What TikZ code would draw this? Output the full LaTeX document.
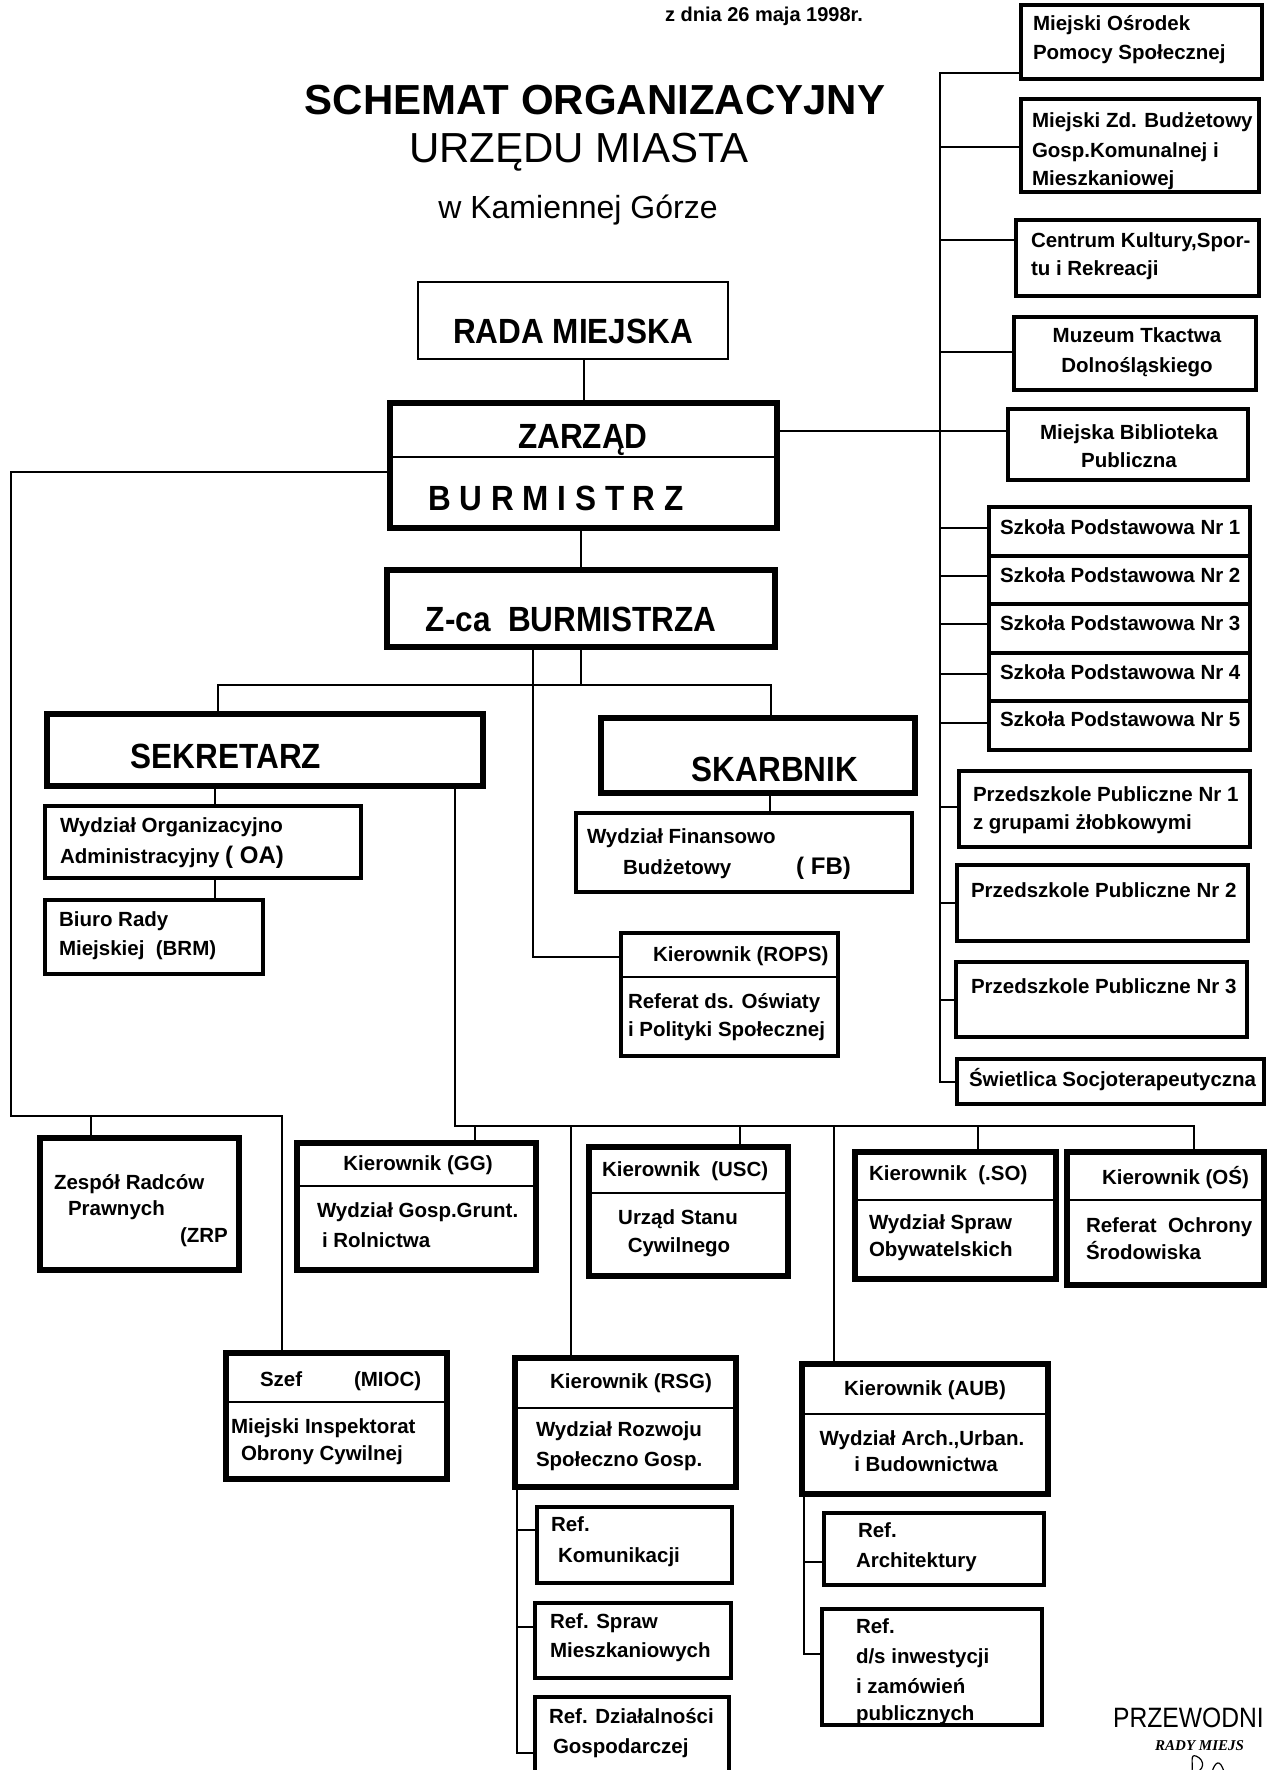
\documentclass[tikz,border=0pt]{standalone}
\usepackage{fontspec}
\setmainfont{Liberation Sans}
\newfontfamily\hdfont[FakeStretch=0.9]{Liberation Sans}
\newfontfamily\sigfont[FakeStretch=0.88]{Liberation Sans}
\newfontfamily\serfont{Liberation Serif}
\newcommand\obox[6]{\node[#2, minimum width={(#5-#3)*1pt}, minimum height={(#6-#4)*1pt}] (#1) at (#3,#4) {};}
\newcommand\dv[2]{\coordinate (#1-dv) at (0,#2); \draw[divl] (#1.west |- #1-dv) -- (#1.east |- #1-dv);}
\newcommand\tl[5]{\node[txt, anchor=#4] (#1) at (#2,#3) {#5};}
\begin{document}
\begin{tikzpicture}[x=1pt,y=-1pt,
  conn/.style={line width=1.3pt},
  boxbase/.style={draw, inner sep=0pt, outer sep=0pt, anchor=north west},
  thinbox/.style={boxbase, line width=1.6pt},
  medbox/.style={boxbase, line width=3.5pt},
  thickbox/.style={boxbase, line width=6.5pt},
  divl/.style={line width=1.8pt},
  txt/.style={inner sep=0pt, outer sep=0pt, font=\bfseries\fontsize{20.5}{24}\selectfont},
  hd/.style={inner sep=0pt, outer sep=0pt, font=\hdfont\bfseries\fontsize{35}{40}\selectfont},
]
\useasboundingbox (0,0) rectangle (1268,1770);
\clip (0,0) rectangle (1268,1770);

% ---------- title ----------
\node[inner sep=0pt, font=\bfseries\fontsize{20}{24}\selectfont] (date) at (764,16) {z dnia 26 maja 1998r.};
\node[inner sep=0pt, anchor=base, font=\bfseries\fontsize{42}{48}\selectfont] (title1) at (595,114) {SCHEMAT ORGANIZACYJNY};
\node[inner sep=0pt, anchor=base, font=\fontsize{42}{48}\selectfont] (title2) at (579,162) {URZĘDU MIASTA};
\node[inner sep=0pt, anchor=base, font=\fontsize{32}{36}\selectfont] (title3) at (578,218) {w Kamiennej Górze};

% ---------- right column ----------
\obox{mops}{medbox}{1021}{5}{1262}{79}
\tl{mops1}{1033}{30}{base west}{Miejski Ośrodek}
\tl{mops2}{1033}{59}{base west}{Pomocy Społecznej}

\obox{mzb}{medbox}{1021}{99}{1259}{192}
\tl{mzb1}{1032}{127}{base west}{Miejski Zd. Budżetowy}
\tl{mzb2}{1032}{157}{base west}{Gosp.Komunalnej i}
\tl{mzb3}{1032}{185}{base west}{Mieszkaniowej}

\obox{ck}{medbox}{1016}{220}{1259}{296}
\tl{ck1}{1031}{247}{base west}{Centrum Kultury,Spor-}
\tl{ck2}{1031}{275}{base west}{tu i Rekreacji}

\obox{muz}{medbox}{1014}{317}{1256}{390}
\tl{muz1}{1137}{342}{base}{Muzeum Tkactwa}
\tl{muz2}{1137}{372}{base}{Dolnośląskiego}

\obox{bib}{medbox}{1008}{409}{1248}{480}
\tl{bib1}{1129}{439}{base}{Miejska Biblioteka}
\tl{bib2}{1129}{467}{base}{Publiczna}

\obox{sp1}{medbox}{989}{507}{1250}{556}
\obox{sp2}{medbox}{989}{556}{1250}{604}
\obox{sp3}{medbox}{989}{604}{1250}{653}
\obox{sp4}{medbox}{989}{653}{1250}{701}
\obox{sp5}{medbox}{989}{701}{1250}{750}
\tl{sp1t}{1000}{534}{base west}{Szkoła Podstawowa Nr 1}
\tl{sp2t}{1000}{582}{base west}{Szkoła Podstawowa Nr 2}
\tl{sp3t}{1000}{630}{base west}{Szkoła Podstawowa Nr 3}
\tl{sp4t}{1000}{679}{base west}{Szkoła Podstawowa Nr 4}
\tl{sp5t}{1000}{726}{base west}{Szkoła Podstawowa Nr 5}

\obox{pp1}{medbox}{959}{771}{1250}{847}
\tl{pp1a}{973}{801}{base west}{Przedszkole Publiczne Nr 1}
\tl{pp1b}{973}{829}{base west}{z grupami żłobkowymi}
\obox{pp2}{medbox}{957}{865}{1248}{941}
\tl{pp2a}{971}{897}{base west}{Przedszkole Publiczne Nr 2}
\obox{pp3}{medbox}{956}{962}{1247}{1037}
\tl{pp3a}{971}{993}{base west}{Przedszkole Publiczne Nr 3}
\obox{swt}{medbox}{957}{1059}{1264}{1104}
\tl{swt1}{969}{1086}{base west}{Świetlica Socjoterapeutyczna}

% right bus
\coordinate (rb0) at (940,73);
\coordinate (rb1) at (940,147);
\coordinate (rb2) at (940,240);
\coordinate (rb3) at (940,352);
\coordinate (rb4) at (940,431);
\coordinate (rb5) at (940,528);
\coordinate (rb6) at (940,576);
\coordinate (rb7) at (940,624);
\coordinate (rb8) at (940,674);
\coordinate (rb9) at (940,723);
\coordinate (rb10) at (940,807);
\coordinate (rb11) at (940,903);
\coordinate (rb12) at (940,1000);
\coordinate (rb13) at (940,1082);
\draw[conn] (mops.west |- rb0) -- (rb0) -- (rb13) -- (swt.west |- rb13);
\draw[conn] (rb1) -- (mzb.west |- rb1);
\draw[conn] (rb2) -- (ck.west |- rb2);
\draw[conn] (rb3) -- (muz.west |- rb3);
\draw[conn] (rb5) -- (sp1.west |- rb5);
\draw[conn] (rb6) -- (sp2.west |- rb6);
\draw[conn] (rb7) -- (sp3.west |- rb7);
\draw[conn] (rb8) -- (sp4.west |- rb8);
\draw[conn] (rb9) -- (sp5.west |- rb9);
\draw[conn] (rb10) -- (pp1.west |- rb10);
\draw[conn] (rb11) -- (pp2.west |- rb11);
\draw[conn] (rb12) -- (pp3.west |- rb12);

% ---------- main hierarchy ----------
\obox{rada}{thinbox}{418}{282}{728}{359}
\node[hd, anchor=base] (radat) at (573,343) {RADA MIEJSKA};

\obox{zarzad}{thickbox}{390}{403}{777}{528}
\dv{zarzad}{457}
\node[hd, anchor=base] (zart) at (583,448) {ZARZĄD};
\node[hd, anchor=base] (burt) at (556,510) {B U R M I S T R Z};

\obox{zca}{thickbox}{387}{570}{775}{647}
\node[hd, anchor=base] (zcat) at (571,631) {Z-ca\ \ BURMISTRZA};

\obox{sek}{thickbox}{47}{714}{483}{786}
\node[hd, anchor=base] (sekt) at (226,768) {SEKRETARZ};

\obox{ska}{thickbox}{601}{718}{915}{793}
\node[hd, anchor=base] (skat) at (775,781) {SKARBNIK};

\obox{oa}{medbox}{45}{806}{361}{878}
\tl{oa1}{60}{832}{base west}{Wydział Organizacyjno}
\tl{oa2}{60}{863}{base west}{Administracyjny {\fontsize{24}{24}\selectfont( OA)}}

\obox{brm}{medbox}{45}{900}{263}{974}
\tl{brm1}{59}{926}{base west}{Biuro Rady}
\tl{brm2}{59}{955}{base west}{Miejskiej\ \ (BRM)}

\obox{fb}{medbox}{576}{813}{912}{892}
\tl{fb1}{587}{843}{base west}{Wydział Finansowo}
\tl{fb2}{623}{874}{base west}{Budżetowy}
\node[inner sep=0pt, anchor=base west, font=\bfseries\fontsize{24}{26}\selectfont] (fb3) at (796,874) {( FB)};

\obox{rops}{medbox}{621}{933}{838}{1056}
\dv{rops}{977}
\tl{rops1}{653}{961}{base west}{Kierownik (ROPS)}
\tl{rops2}{628}{1008}{base west}{Referat ds. Oświaty}
\tl{rops3}{628}{1036}{base west}{i Polityki Społecznej}

% connectors main
\coordinate (xRZ) at (584,0);
\draw[conn] (rada.south -| xRZ) -- (zarzad.north -| xRZ);
\draw[conn] (zarzad.east |- rb4) -- (bib.west |- rb4);
\coordinate (xZZ) at (581,0);
\draw[conn] (zarzad.south -| xZZ) -- (zca.north -| xZZ);
\coordinate (j1) at (581,685);
\coordinate (j1l) at (218,685);
\coordinate (j1r) at (771,685);
\draw[conn] (zca.south -| j1) -- (j1);
\draw[conn] (sek.north -| j1l) -- (j1l) -- (j1r) -- (ska.north -| j1r);
\coordinate (j2) at (533,957);
\draw[conn] (zca.south -| j2) -- (j2) -- (rops.west |- j2);
\coordinate (xSO) at (215,0);
\draw[conn] (sek.south -| xSO) -- (oa.north -| xSO);
\draw[conn] (oa.south -| xSO) -- (brm.north -| xSO);
\coordinate (xSF) at (770,0);
\draw[conn] (ska.south -| xSF) -- (fb.north -| xSF);

% ---------- bottom row ----------
\obox{zrp}{thickbox}{40}{1138}{239}{1270}
\tl{zrp1}{54}{1189}{base west}{Zespół Radców}
\tl{zrp2}{68}{1215}{base west}{Prawnych}
\tl{zrp3}{180}{1242}{base west}{(ZRP}

\obox{gg}{thickbox}{297}{1143}{536}{1270}
\dv{gg}{1186}
\tl{gg1}{418}{1170}{base}{Kierownik (GG)}
\tl{gg2}{317}{1217}{base west}{Wydział Gosp.Grunt.}
\tl{gg3}{322}{1247}{base west}{i Rolnictwa}

\obox{usc}{thickbox}{589}{1147}{788}{1276}
\dv{usc}{1193}
\tl{usc1}{602}{1176}{base west}{Kierownik\ \ (USC)}
\tl{usc2}{678}{1224}{base}{Urząd Stanu}
\tl{usc3}{679}{1252}{base}{Cywilnego}

\obox{so}{thickbox}{855}{1152}{1056}{1279}
\dv{so}{1200}
\tl{so1}{869}{1180}{base west}{Kierownik\ \ (.SO)}
\tl{so2}{869}{1229}{base west}{Wydział Spraw}
\tl{so3}{869}{1256}{base west}{Obywatelskich}

\obox{os}{thickbox}{1067}{1152}{1264}{1285}
\dv{os}{1200}
\tl{os1}{1102}{1184}{base west}{Kierownik (OŚ)}
\tl{os2}{1086}{1232}{base west}{Referat\ \ Ochrony}
\tl{os3}{1086}{1259}{base west}{Środowiska}

\obox{szef}{thickbox}{226}{1353}{447}{1479}
\dv{szef}{1402}
\tl{szef1}{260}{1386}{base west}{Szef}
\tl{szef2}{354}{1386}{base west}{(MIOC)}
\tl{szef3}{231}{1433}{base west}{Miejski Inspektorat}
\tl{szef4}{241}{1460}{base west}{Obrony Cywilnej}

\obox{rsg}{thickbox}{515}{1358}{736}{1487}
\dv{rsg}{1408}
\tl{rsg1}{631}{1388}{base}{Kierownik (RSG)}
\tl{rsg2}{536}{1436}{base west}{Wydział Rozwoju}
\tl{rsg3}{536}{1466}{base west}{Społeczno Gosp.}

\obox{aub}{thickbox}{802}{1364}{1048}{1494}
\dv{aub}{1414}
\tl{aub1}{925}{1395}{base}{Kierownik (AUB)}
\tl{aub2}{922}{1445}{base}{Wydział Arch.,Urban.}
\tl{aub3}{926}{1471}{base}{i Budownictwa}

\obox{kom}{medbox}{537}{1507}{732}{1583}
\tl{kom1}{551}{1531}{base west}{Ref.}
\tl{kom2}{558}{1562}{base west}{Komunikacji}

\obox{mie}{medbox}{535}{1603}{731}{1678}
\tl{mie1}{550}{1628}{base west}{Ref. Spraw}
\tl{mie2}{550}{1657}{base west}{Mieszkaniowych}

\obox{dzg}{medbox}{535}{1697}{729}{1785}
\tl{dzg1}{549}{1723}{base west}{Ref. Działalności}
\tl{dzg2}{553}{1753}{base west}{Gospodarczej}

\obox{arc}{medbox}{824}{1513}{1044}{1585}
\tl{arc1}{858}{1537}{base west}{Ref.}
\tl{arc2}{856}{1567}{base west}{Architektury}

\obox{inw}{medbox}{822}{1609}{1042}{1725}
\tl{inw1}{856}{1633}{base west}{Ref.}
\tl{inw2}{856}{1663}{base west}{d/s inwestycji}
\tl{inw3}{856}{1693}{base west}{i zamówień}
\tl{inw4}{856}{1720}{base west}{publicznych}

% left bus
\coordinate (lb1) at (11,472);
\coordinate (lb2) at (11,1116);
\coordinate (lb3) at (282,1116);
\coordinate (lbz) at (91,1116);
\draw[conn] (zarzad.west |- lb1) -- (lb1) -- (lb2) -- (lb3) -- (szef.north -| lb3);
\draw[conn] (lbz) -- (zrp.north -| lbz);

% second bus
\coordinate (b2a) at (455,1126);
\coordinate (b2b) at (1194,1126);
\draw[conn] (sek.south -| b2a) -- (b2a) -- (b2b) -- (os.north -| b2b);
\coordinate (b2gg) at (475,1126);
\coordinate (b2rsg) at (571,1126);
\coordinate (b2usc) at (740,1126);
\coordinate (b2aub) at (834,1126);
\coordinate (b2so) at (978,1126);
\draw[conn] (b2gg) -- (gg.north -| b2gg);
\draw[conn] (b2rsg) -- (rsg.north -| b2rsg);
\draw[conn] (b2usc) -- (usc.north -| b2usc);
\draw[conn] (b2aub) -- (aub.north -| b2aub);
\draw[conn] (b2so) -- (so.north -| b2so);

% RSG sub-bus
\coordinate (rs1) at (517,1530);
\coordinate (rs2) at (517,1627);
\coordinate (rs3) at (517,1753);
\draw[conn] (rsg.south -| rs1) -- (rs3) -- (dzg.west |- rs3);
\draw[conn] (rs1) -- (kom.west |- rs1);
\draw[conn] (rs2) -- (mie.west |- rs2);

% AUB sub-bus
\coordinate (ab1) at (804,1562);
\coordinate (ab2) at (804,1654);
\draw[conn] (aub.south -| ab1) -- (ab2) -- (inw.west |- ab2);
\draw[conn] (ab1) -- (arc.west |- ab1);

% ---------- signature ----------
\node[inner sep=0pt, anchor=base west, font=\sigfont\fontsize{28}{30}\selectfont] (sig1) at (1113,1727) {PRZEWODNI};
\node[inner sep=0pt, anchor=base west, font=\serfont\bfseries\itshape\fontsize{15}{18}\selectfont] (sig2) at (1155,1750) {RADY MIEJS};
\draw[line width=1.2pt] (1192,1772) .. controls (1193,1762) and (1190,1754) .. (1196,1756) .. controls (1206,1760) and (1204,1772) .. (1194,1772);
\draw[line width=1.2pt] (1212,1772) .. controls (1215,1762) and (1220,1758) .. (1224,1772);
\end{tikzpicture}
\end{document}
